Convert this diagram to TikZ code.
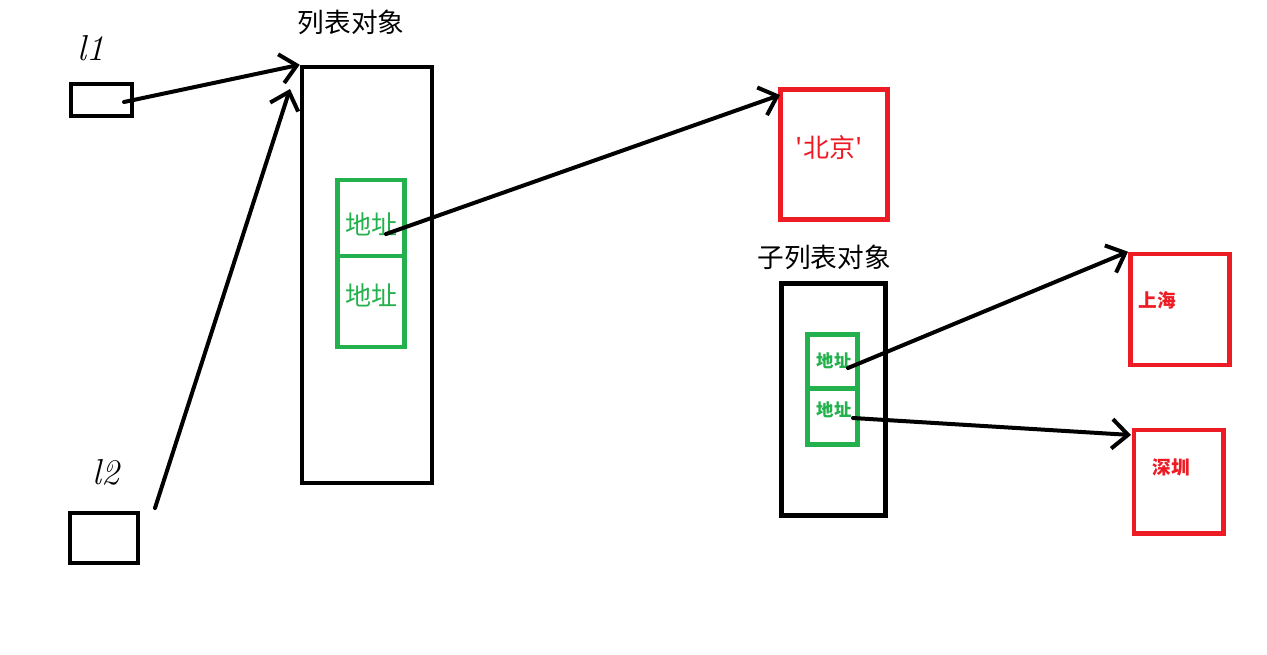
\documentclass[tikz,border=0pt]{standalone}
\usepackage{fontspec}
\newfontfamily\cjk{Noto Sans CJK SC}
\usetikzlibrary{arrows.meta}
\definecolor{pred}{HTML}{ED1C24}
\definecolor{pgreen}{HTML}{22B14C}
\tikzset{
  blackbox/.style={draw=black, line width=3.4pt, inner sep=0pt},
  greenbox/.style={draw=pgreen, line width=3.4pt, inner sep=0pt},
  redbox/.style={draw=pred, line width=3.4pt, inner sep=0pt},
  title/.style={font=\cjk\fontsize{20pt}{22pt}\selectfont, text=black},
  addr/.style={font=\cjk\fontsize{19.5pt}{21pt}\selectfont, text=pgreen},
  addrs/.style={font=\cjk\bfseries\fontsize{13pt}{15pt}\selectfont, text=pgreen},
  city/.style={font=\cjk\fontsize{19.5pt}{21pt}\selectfont, text=pred},
  cits/.style={font=\cjk\bfseries\fontsize{14pt}{16pt}\selectfont, text=pred},
  hand/.style={font=\fontsize{27pt}{29pt}\selectfont\itshape, text=black},
  conn/.style={draw=black, line width=3pt, line cap=round,
    -{Straight Barb[length=12pt,width=22pt,line width=3pt]}},
}
\begin{document}
\begin{tikzpicture}[x=0.75pt,y=-0.75pt]
\useasboundingbox (0,0) rectangle (1267,654);
% variable boxes
\node[blackbox, minimum width=61*0.75pt, minimum height=32*0.75pt] (l1) at (101.5,100) {};
\node[blackbox, minimum width=68*0.75pt, minimum height=50*0.75pt] (l2) at (104,538) {};
\node[hand] (l1t) at (91,48) {l1};
\node[hand] (l2t) at (106,472) {l2};
% list object
\node[title] (bigt) at (351,22) {列表对象};
\node[blackbox, minimum width=130*0.75pt, minimum height=416*0.75pt] (big) at (367,275) {};
\node[greenbox, minimum width=67*0.75pt, minimum height=76*0.75pt] (g1) at (371,218) {};
\node[greenbox, minimum width=67*0.75pt, minimum height=91*0.75pt] (g2) at (371,301.5) {};
\node[addr] (g1t) at (371,224) {地址};
\node[addr] (g2t) at (371,295) {地址};
% Beijing
\node[redbox, minimum width=106.5*0.75pt, minimum height=130*0.75pt] (bj) at (834,154.5) {};
\node[city] (bjt) at (829,148) {'北京'};
% sub list
\node[title] (subt) at (824,257) {子列表对象};
\node[blackbox, minimum width=104*0.75pt, minimum height=232*0.75pt] (sub) at (833.5,399.5) {};
\node[greenbox, minimum width=50*0.75pt, minimum height=54*0.75pt] (s1) at (832.5,361.5) {};
\node[greenbox, minimum width=50*0.75pt, minimum height=56*0.75pt] (s2) at (832.5,416.5) {};
\node[addrs] (s1t) at (834,361) {地址};
\node[addrs] (s2t) at (834,410) {地址};
% Shanghai, Shenzhen
\node[redbox, minimum width=99.5*0.75pt, minimum height=111*0.75pt] (sh) at (1180,309.5) {};
\node[cits] (sht) at (1157,300) {上海};
\node[redbox, minimum width=89.5*0.75pt, minimum height=103.5*0.75pt] (sz) at (1178.75,481.75) {};
\node[cits] (szt) at (1171,467) {深圳};
% connector ends
\coordinate (t1) at (124,102);
\coordinate (t2) at (155,508);
\coordinate (h2) at (290,89);
\coordinate (t3) at (386,234);
\coordinate (h3) at (780,95);
\coordinate (t4) at (848,368);
\coordinate (t5) at (853,418);
\coordinate (h5) at (1131,435);
% connectors
\draw[conn] (t1) -- (big.north west);
\draw[conn] (t2) -- (h2);
\draw[conn] (t3) -- (h3);
\draw[conn] (t4) -- (sh.north west);
\draw[conn] (t5) -- (h5);
\end{tikzpicture}
\end{document}
